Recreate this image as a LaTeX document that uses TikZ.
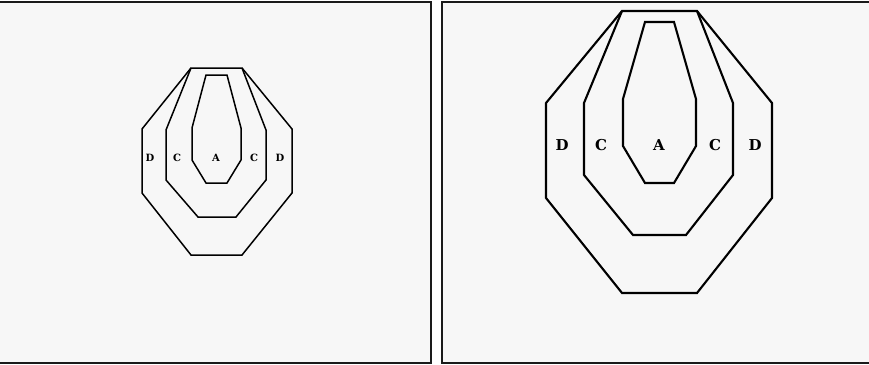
\documentclass[tikz,border=0pt]{standalone}
\usepackage{fontspec}
\newfontfamily\lblfont{DejaVu Serif}
\definecolor{panelbg}{HTML}{F7F7F7}
\definecolor{frame}{HTML}{1A1A1A}
\begin{document}
\begin{tikzpicture}[x=1pt,y=-1pt,
  ring/.style={draw=black,line join=miter},
  smallring/.style={ring,line width=1.5pt},
  bigring/.style={ring,line width=2.1pt},
  panel/.style={draw=frame,fill=panelbg,line width=1.6pt},
  lblsmall/.style={font=\lblfont\bfseries\fontsize{10}{10}\selectfont,inner sep=0pt},
  lblbig/.style={font=\lblfont\bfseries\fontsize{15}{15}\selectfont,inner sep=0pt}]
\useasboundingbox (0,0) rectangle (869,364);
\fill[white] (0,0) rectangle (869,364);
\clip (0,0) rectangle (869,364);
% panels
\draw[panel] (-3,2) rectangle (431,363);
\draw[panel] (442,2) rectangle (872,363);
% left target
\draw[smallring] (191,68) -- (242,68) -- (292,129) -- (292,193) -- (242,255) -- (191,255) -- (142,193) -- (142,129) -- cycle;
\draw[smallring] (191,68) -- (166,130) -- (166,180) -- (198,217) -- (236,217) -- (266,180) -- (266,130) -- (242,68);
\draw[smallring] (206,75) -- (227,75) -- (241,128) -- (241,160) -- (227,183) -- (206,183) -- (192,160) -- (192,128) -- cycle;
\node[lblsmall] (ld1) at (150,158) {D};
\node[lblsmall] (lc1) at (177,158) {C};
\node[lblsmall] (la)  at (216,158) {A};
\node[lblsmall] (lc2) at (254,158) {C};
\node[lblsmall] (ld2) at (280,158) {D};
% right target
\draw[bigring] (622,11) -- (697,11) -- (772,103) -- (772,198) -- (697,293) -- (622,293) -- (546,198) -- (546,103) -- cycle;
\draw[bigring] (622,11) -- (584,103) -- (584,175) -- (633,235) -- (686,235) -- (733,175) -- (733,103) -- (697,11);
\draw[bigring] (645,22) -- (674,22) -- (696,99) -- (696,146) -- (674,183) -- (645,183) -- (623,146) -- (623,99) -- cycle;
\node[lblbig] (rd1) at (562,145) {D};
\node[lblbig] (rc1) at (601,145) {C};
\node[lblbig] (ra)  at (659,145) {A};
\node[lblbig] (rc2) at (715,145) {C};
\node[lblbig] (rd2) at (755,145) {D};
\end{tikzpicture}
\end{document}
